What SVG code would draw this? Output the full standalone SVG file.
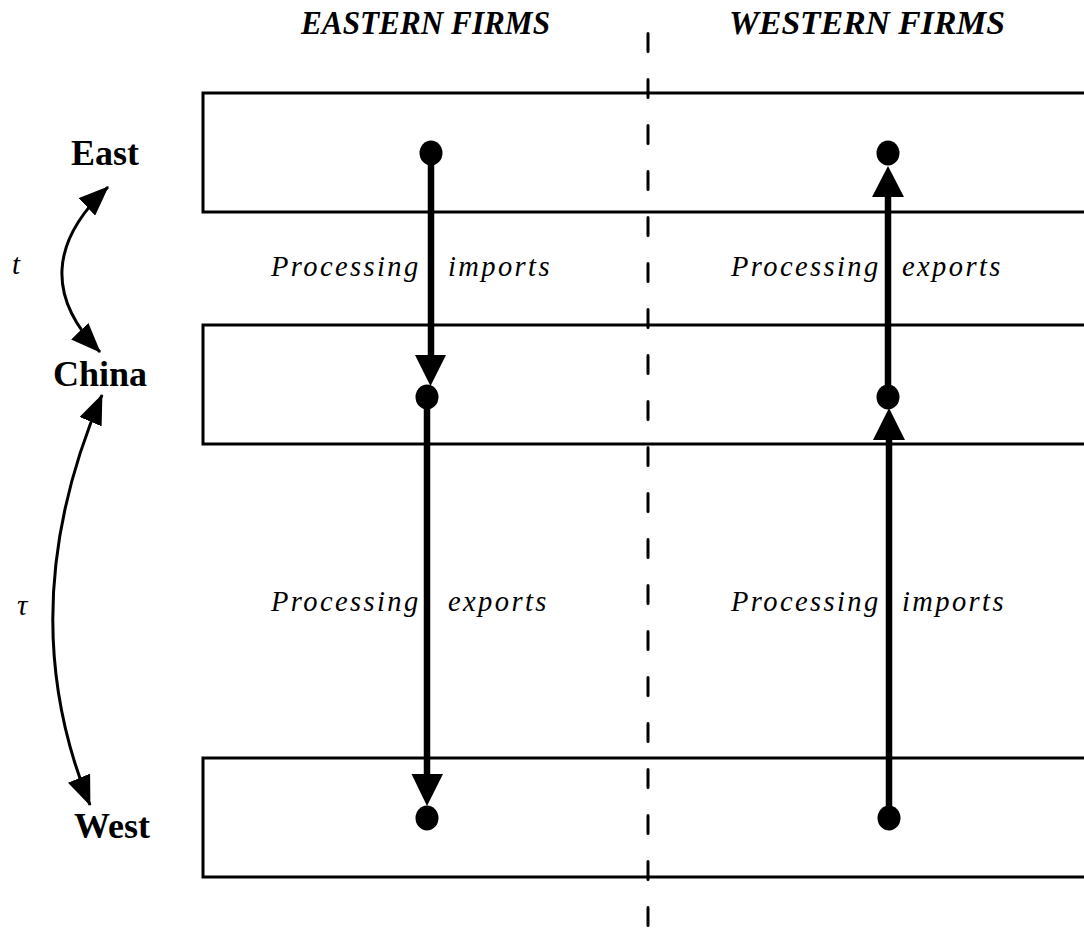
<svg xmlns="http://www.w3.org/2000/svg" width="1084" height="930" viewBox="0 0 1084 930">
<style>
.band{fill:none;stroke:#000;stroke-width:3}
.lbl{font-family:"Liberation Serif","Times New Roman",serif;font-weight:bold;font-size:36px;fill:#000}
.hdr{font-family:"Liberation Serif","Times New Roman",serif;font-weight:bold;font-style:italic;font-size:33px;fill:#000}
.proc{font-family:"Liberation Serif","Times New Roman",serif;font-style:italic;font-size:28.5px;letter-spacing:2.4px;fill:#000}
.sym{font-family:"Liberation Serif","Times New Roman",serif;font-style:italic;font-size:29px;fill:#000}
.thick{stroke:#000;stroke-width:6.5;fill:none}
.thin{stroke:#000;stroke-width:3;fill:none}
.dot{fill:#000}
.head{fill:#000}
</style>
<defs>
<marker id="ah" markerUnits="userSpaceOnUse" markerWidth="30" markerHeight="24" viewBox="0 0 30 24" refX="29" refY="12" orient="auto-start-reverse">
<path d="M0,0 L30,12 L0,24 z" fill="#000"/>
</marker>
</defs>
<rect width="1084" height="930" fill="#fff"/>

<g id="headers">
<text class="hdr" x="301" y="34" textLength="249" lengthAdjust="spacingAndGlyphs">EASTERN FIRMS</text>
<text class="hdr" x="729" y="34" textLength="276" lengthAdjust="spacingAndGlyphs">WESTERN FIRMS</text>
</g>

<g id="band-east"><rect class="band" x="203" y="93" width="910" height="119"/></g>
<g id="band-china"><rect class="band" x="203" y="325" width="910" height="119"/></g>
<g id="band-west"><rect class="band" x="203" y="758" width="910" height="119"/></g>

<g id="divider">
<line x1="648" y1="33.5" x2="648" y2="930" stroke="#000" stroke-width="3" stroke-linecap="round" stroke-dasharray="18 28"/>
</g>

<g id="label-east"><text class="lbl" x="105" y="165" text-anchor="middle">East</text></g>
<g id="label-china"><text class="lbl" x="100" y="386" text-anchor="middle">China</text></g>
<g id="label-west"><text class="lbl" x="112" y="838" text-anchor="middle">West</text></g>
<g id="label-t"><text class="sym" x="12" y="274">t</text></g>
<g id="label-tau"><text class="sym" x="17" y="615">τ</text></g>

<g id="text-labels">
<text class="proc" x="271" y="276">Processing</text>
<text class="proc" x="448" y="276">imports</text>
<text class="proc" x="731" y="276">Processing</text>
<text class="proc" x="902" y="276">exports</text>
<text class="proc" x="271" y="611">Processing</text>
<text class="proc" x="448" y="611">exports</text>
<text class="proc" x="731" y="611">Processing</text>
<text class="proc" x="902" y="611">imports</text>
</g>

<g id="dots">
<ellipse class="dot" cx="431" cy="153" rx="11.5" ry="12.5"/>
<ellipse class="dot" cx="427" cy="397" rx="11.5" ry="12.5"/>
<ellipse class="dot" cx="427" cy="818" rx="11.5" ry="12.5"/>
<ellipse class="dot" cx="888" cy="153" rx="11.5" ry="12.5"/>
<ellipse class="dot" cx="888" cy="397" rx="11.5" ry="12.5"/>
<ellipse class="dot" cx="889" cy="818" rx="11.5" ry="12.5"/>
</g>

<g id="connectors">
<line class="thick" x1="431" y1="153" x2="431" y2="358"/>
<polygon class="head" points="415,355 446,355 430.5,386"/>
<line class="thick" x1="427" y1="397" x2="427" y2="776"/>
<polygon class="head" points="411.5,774 443,774 427,806"/>
<line class="thick" x1="888" y1="195" x2="888" y2="397"/>
<polygon class="head" points="872,197 904,197 888,166"/>
<line class="thick" x1="889" y1="437" x2="889" y2="818"/>
<polygon class="head" points="873,440 905,440 889,408"/>
<path class="thin" d="M108,187 Q20,270 100,352" marker-start="url(#ah)" marker-end="url(#ah)"/>
<path class="thin" d="M102,395 Q10,610 90,805" marker-start="url(#ah)" marker-end="url(#ah)"/>
</g>
</svg>
